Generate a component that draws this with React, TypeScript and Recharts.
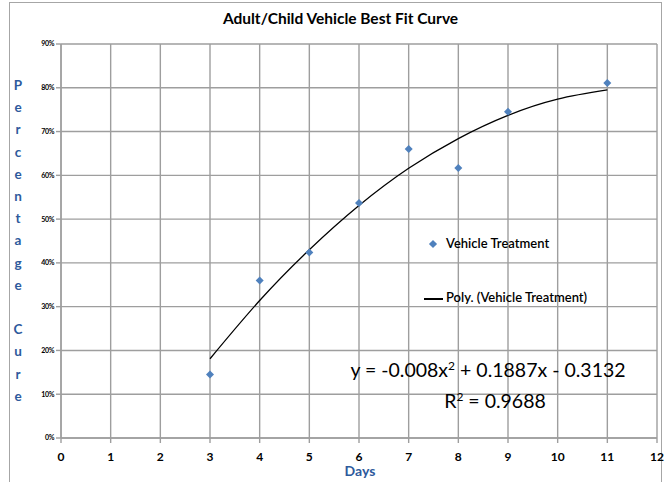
import { ComposedChart, Line, Scatter, XAxis, YAxis, CartesianGrid } from 'recharts';

// observed data points (percentage cure by day)
const pointDays = [3, 4, 5, 6, 7, 8, 9, 11];
const pointValues = [14.5, 36.0, 42.4, 53.7, 66.0, 61.7, 74.5, 81.1];

// trend curve at each day
const curveDays = [3, 4, 5, 6, 7, 8, 9, 10, 11];
const curveValues = [18.1, 31.4, 43.0, 53.1, 61.6, 68.4, 73.7, 77.4, 79.5];

const xTicks = [0, 1, 2, 3, 4, 5, 6, 7, 8, 9, 10, 11, 12];
const yTicks = [0, 10, 20, 30, 40, 50, 60, 70, 80, 90];

const yLabelLetters = ['P', 'e', 'r', 'c', 'e', 'n', 't', 'a', 'g', 'e', '', 'C', 'u', 'r', 'e'];

const scatterData = pointDays.map((d, i) => ({ day: d, value: pointValues[i] }));
const curveData = curveDays.map((d, i) => ({ day: d, value: curveValues[i] }));

const FONT = 'Lato, "Open Sans", sans-serif';
const BLUE = '#4F81BD';
const LABEL_BLUE = '#2E5A9C';

const YLabel = () => (
  <text x={18} y={87} fill={LABEL_BLUE} fontFamily={FONT} fontWeight={700} fontSize={13.5} textAnchor="middle" dominantBaseline="middle">
    {yLabelLetters.map((ch, i) => (
      <tspan key={i} x={18} y={87 + i * 22.2}>{ch || ' '}</tspan>
    ))}
  </text>
);

// small square diamond like the Excel marker
const Diamond = (props: any) => {
  const { cx, cy } = props;
  const r = 4;
  return <path d={`M${cx},${cy - r}L${cx + r},${cy}L${cx},${cy + r}L${cx - r},${cy}Z`} fill={BLUE} />;
};

export default function App() {
  return (
    <div style={{ position: 'absolute', left: 0, top: 0, width: 671, height: 482, background: '#fff', fontFamily: FONT }}>
      {/* outer frame */}
      <div style={{ position: 'absolute', left: 9, top: 2, width: 651, height: 490, border: '1px solid #a6a6a6' }} />

      <div style={{ position: 'absolute', left: 5, top: 9, width: 671, textAlign: 'center', fontWeight: 700, fontSize: 15.5, color: '#000' }}>
        Adult/Child Vehicle Best Fit Curve
      </div>

      <div style={{ position: 'absolute', left: 0, top: 0 }}>
        <ComposedChart width={671} height={482} margin={{ top: 44, right: 14, left: 31, bottom: 14 }}>
          <CartesianGrid stroke="#9e9e9e" strokeWidth={1.4} />
          <XAxis
            type="number"
            dataKey="day"
            domain={[0, 12]}
            ticks={xTicks}
            height={30}
            stroke="#9e9e9e"
            strokeWidth={1.4}
            tickSize={5}
            tickMargin={9}
            tick={{ fill: '#000', fontSize: 12, fontWeight: 700, fontFamily: FONT }}
          />
          <YAxis
            type="number"
            dataKey="value"
            domain={[0, 90]}
            ticks={yTicks}
            width={30}
            stroke="#9e9e9e"
            strokeWidth={1.4}
            tickSize={5}
            tickMargin={2}
            tickFormatter={(v) => `${v}%`}
            tick={{ fill: '#000', fontSize: 7, fontWeight: 700, fontFamily: FONT, letterSpacing: -0.4 }}
            label={{ content: () => <YLabel /> }}
          />
          <Line
            data={curveData}
            dataKey="value"
            type="natural"
            stroke="#000"
            strokeWidth={1.3}
            dot={false}
            activeDot={false}
            isAnimationActive={false}
          />
          <Scatter data={scatterData} dataKey="value" fill={BLUE} shape={<Diamond />} isAnimationActive={false} />
        </ComposedChart>
      </div>

      <div style={{ position: 'absolute', left: 0, top: 462, width: 720, textAlign: 'center', fontWeight: 700, fontSize: 14, color: LABEL_BLUE }}>
        Days
      </div>

      {/* legend */}
      <div style={{ position: 'absolute', left: 429, top: 240, width: 8, height: 8, background: BLUE, transform: 'rotate(45deg) scale(0.72)' }} />
      <div style={{ position: 'absolute', left: 446, top: 235, fontSize: 13, color: '#000', whiteSpace: 'nowrap', fontWeight: 600 }}>Vehicle Treatment</div>
      <div style={{ position: 'absolute', left: 424, top: 298, width: 19, height: 1.5, background: '#000' }} />
      <div style={{ position: 'absolute', left: 446, top: 289, fontSize: 13, color: '#000', whiteSpace: 'nowrap', fontWeight: 600 }}>Poly. (Vehicle Treatment)</div>

      {/* trend equation */}
      <div style={{ position: 'absolute', left: 300, top: 354, width: 376, textAlign: 'center', fontSize: 19.5, color: '#000', whiteSpace: 'nowrap', lineHeight: '31px' }}>
        <div>y = -0.008x<sup style={{ fontSize: 12, verticalAlign: 7, lineHeight: 0 }}>2</sup> + 0.1887x - 0.3132</div>
        <div style={{ marginTop: 0, paddingLeft: 14 }}>R<sup style={{ fontSize: 12, verticalAlign: 7, lineHeight: 0 }}>2</sup> = 0.9688</div>
      </div>
    </div>
  );
}
